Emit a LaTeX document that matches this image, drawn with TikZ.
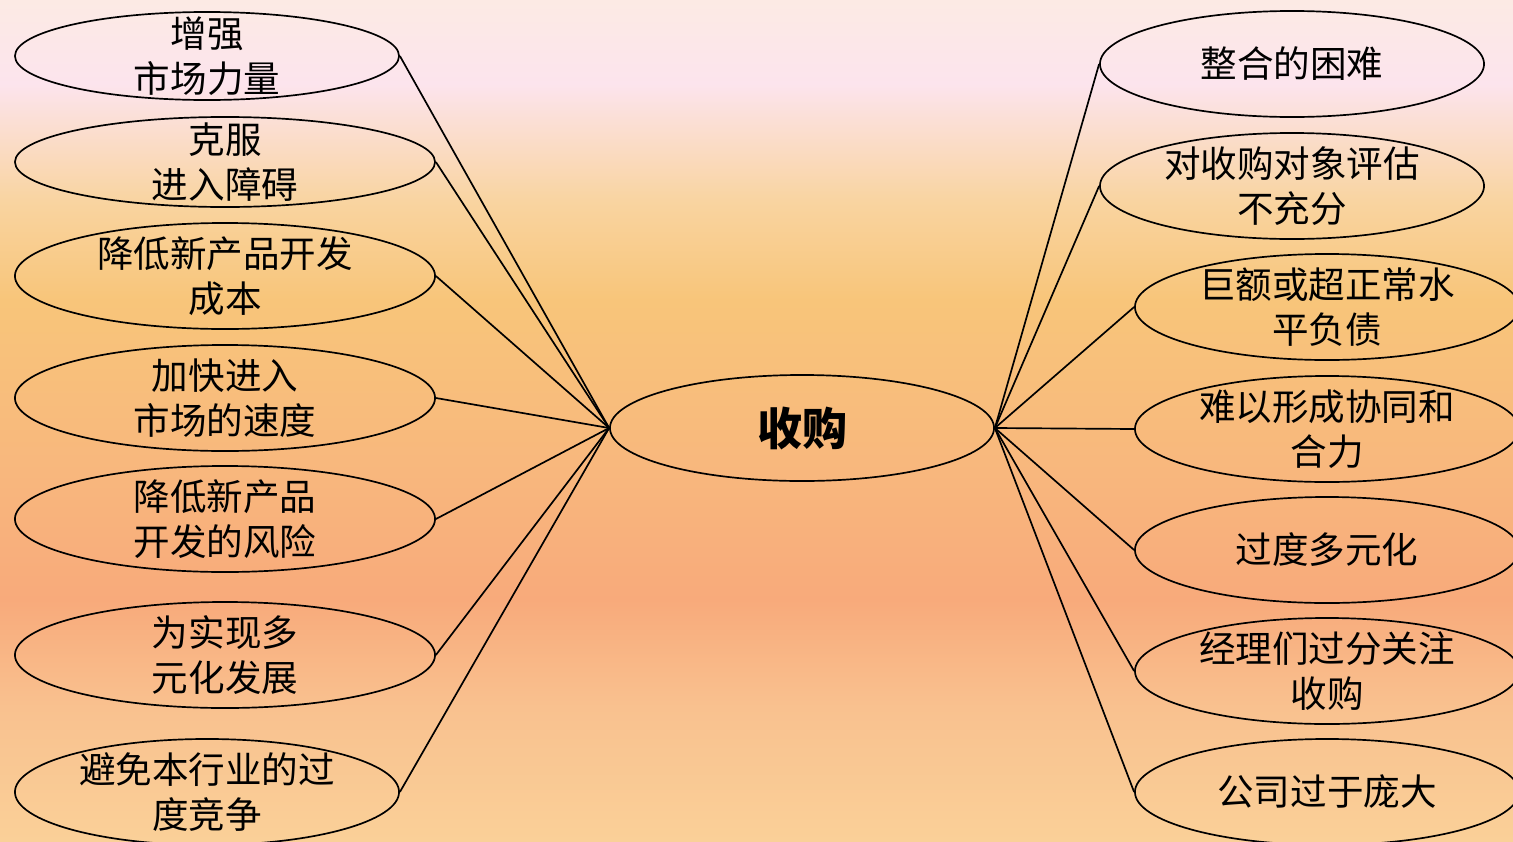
\documentclass[tikz,border=0pt]{standalone}
\usepackage{fontspec}
\newfontfamily\cjk{Noto Sans CJK SC}
\usetikzlibrary{shapes.geometric}
% background shading, top pink to orange, salmon and peach
\pgfdeclareverticalshading{bgshade}{100bp}{%
  rgb(0bp)=(0.980,0.816,0.596);
  rgb(25bp)=(0.980,0.816,0.596);
  rgb(33bp)=(0.976,0.757,0.561);
  rgb(39.4bp)=(0.973,0.667,0.482);
  rgb(47bp)=(0.973,0.718,0.490);
  rgb(57.2bp)=(0.973,0.773,0.478);
  rgb(63bp)=(0.976,0.831,0.627);
  rgb(70bp)=(0.988,0.894,0.929);
  rgb(75bp)=(0.988,0.918,0.894);
  rgb(100bp)=(0.988,0.918,0.894)}

\begin{document}
\begin{tikzpicture}[x=0.025cm,y=-0.025cm,
      leaf/.style={ellipse,draw=black,line width=1.2pt,inner sep=0pt,
                   minimum width=9.6cm,minimum height=2.65cm},
      wide/.style={leaf,minimum width=10.5cm},
      txt/.style={font=\cjk\fontsize{26}{32}\selectfont,align=center,text=black},
      hub/.style={leaf,font=\cjk\bfseries\fontsize{32}{38}\selectfont}]
      \shade[shading=bgshade] (0,0) rectangle (1513,842);
      \useasboundingbox (0,0) rectangle (1513,842);
      \clip (0,0) rectangle (1513,842);
      % centre
      \node[hub] (hub) at (802,428) {收购};
      % left side
      \node[leaf,minimum height=2.2cm,label={[txt]center:增强\\市场力量}] (l1) at (207,56) {};
      \node[wide,minimum height=2.25cm,label={[txt]center:克服\\进入障碍}] (l2) at (225,162) {};
      \node[wide,label={[txt]center:降低新产品开发\\成本}] (l3) at (225,276) {};
      \node[wide,label={[txt]center:加快进入\\市场的速度}] (l4) at (225,398) {};
      \node[wide,label={[txt]center:降低新产品\\开发的风险}] (l5) at (225,519) {};
      \node[wide,label={[txt]center:为实现多\\元化发展}] (l6) at (225,655) {};
      \node[leaf,label={[txt]center:避免本行业的过\\度竞争}] (l7) at (207,792) {};
      % right side
      \node[leaf,label={[txt]center:整合的困难}] (r1) at (1292,64) {};
      \node[leaf,label={[txt]center:对收购对象评估\\不充分}] (r2) at (1292,186) {};
      \node[leaf,label={[txt]center:巨额或超正常水\\平负债}] (r3) at (1327,307) {};
      \node[leaf,label={[txt]center:难以形成协同和\\合力}] (r4) at (1327,429) {};
      \node[leaf,label={[txt]center:过度多元化}] (r5) at (1327,550) {};
      \node[leaf,label={[txt]center:经理们过分关注\\收购}] (r6) at (1327,671) {};
      \node[leaf,label={[txt]center:公司过于庞大}] (r7) at (1327,792) {};
      % connectors
      \foreach \n in {l1,l2,l3,l4,l5,l6,l7}
        \draw[line width=1.2pt] (hub.west) -- (\n.east);
      \foreach \n in {r1,r2,r3,r4,r5,r6,r7}
        \draw[line width=1.2pt] (hub.east) -- (\n.west);
    \end{tikzpicture}
\end{document}
